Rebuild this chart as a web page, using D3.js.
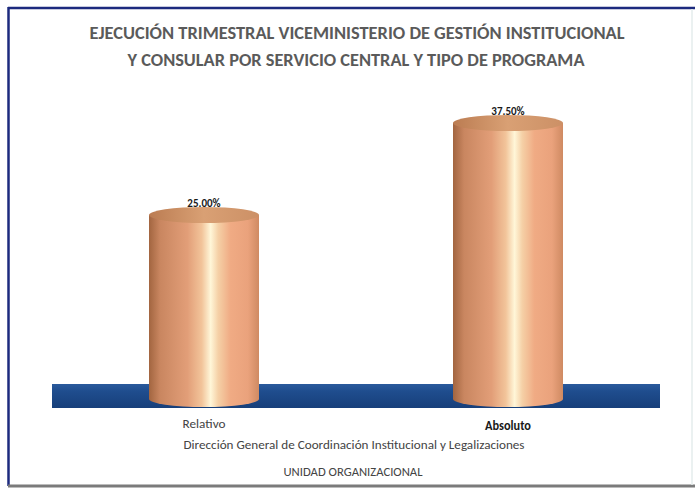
<!DOCTYPE html>
<html>

<head>
  <title>Ejecución trimestral</title>
  <script src="https://cdn.jsdelivr.net/npm/d3@7"></script>
  <style type="text/css">
    body {
      margin: 0;
      background: #ffffff;
    }

    text {
      font-family: Carlito, Calibri, "Liberation Sans Narrow", "Open Sans", sans-serif;
    }
  </style>
</head>

<body>
  <div id="chartArea"></div>
  <script type="text/javascript">
    let categories = ['Relativo', 'Absoluto'];
    let values = [25, 37.5];
    let valueLabels = ['25.00%', '37.50%'];
    let titleLines = [
      'EJECUCIÓN TRIMESTRAL VICEMINISTERIO DE GESTIÓN INSTITUCIONAL',
      'Y CONSULAR POR SERVICIO CENTRAL Y TIPO DE PROGRAMA'
    ];
    let groupTitle = 'Dirección General de Coordinación Institucional y Legalizaciones';
    let axisTitle = 'UNIDAD ORGANIZACIONAL';

    let w = 695;
    let h = 489;
    let base = 399;
    let barW = 110;
    let ry = 8;

    let svg = d3.select('#chartArea').append('svg')
      .attr('width', w)
      .attr('height', h);

    let defs = svg.append('defs');

    // cylinder body shading
    let bodyGrad = defs.append('linearGradient').attr('id', 'cyl')
      .attr('x1', 0).attr('x2', 1).attr('y1', 0).attr('y2', 0);
    [[0, '#a26540'], [0.1, '#c98660'], [0.35, '#e29e78'], [0.48, '#f2c49a'],
     [0.56, '#fff6d8'], [0.63, '#f5d0a6'], [0.74, '#f0ab84'], [0.9, '#eaa27c'], [1, '#cf8a62']]
      .forEach(s => bodyGrad.append('stop').attr('offset', s[0]).attr('stop-color', s[1]));

    let topGrad = defs.append('linearGradient').attr('id', 'cyltop')
      .attr('x1', 0).attr('x2', 1).attr('y1', 0).attr('y2', 0);
    [[0, '#bb7c52'], [0.5, '#d9a074'], [1, '#cc9066']]
      .forEach(s => topGrad.append('stop').attr('offset', s[0]).attr('stop-color', s[1]));

    let floorGrad = defs.append('linearGradient').attr('id', 'floor')
      .attr('x1', 0).attr('x2', 0).attr('y1', 0).attr('y2', 1);
    [[0, '#2a5a9c'], [0.3, '#1f4d8e'], [1, '#173f7a']]
      .forEach(s => floorGrad.append('stop').attr('offset', s[0]).attr('stop-color', s[1]));

    // frame
    svg.append('rect').attr('x', 9).attr('y', 9).attr('width', 684).attr('height', 475)
      .attr('fill', '#ffffff');
    svg.append('line').attr('x1', 8).attr('x2', 695).attr('y1', 8).attr('y2', 8)
      .attr('stroke', '#1c2a7e').attr('stroke-width', 2.5);
    svg.append('line').attr('x1', 8.5).attr('x2', 8.5).attr('y1', 7).attr('y2', 486)
      .attr('stroke', '#1c2a7e').attr('stroke-width', 2.5);
    svg.append('line').attr('x1', 8).attr('x2', 695).attr('y1', 486).attr('y2', 486)
      .attr('stroke', '#7b7b7b').attr('stroke-width', 3);
    svg.append('line').attr('x1', 692).attr('x2', 692).attr('y1', 9).attr('y2', 485)
      .attr('stroke', '#e4ecec').attr('stroke-width', 1.5);

    let xScale = d3.scalePoint()
      .domain(categories)
      .range([52, 660])
      .padding(0.5);

    let yScale = d3.scaleLinear()
      .domain([0, 40])
      .range([base, base - 294.4]);

    // floor band
    svg.append('rect')
      .attr('x', 52).attr('y', 384).attr('width', 608).attr('height', 24)
      .attr('fill', 'url(#floor)');

    let bars = svg.selectAll('g.bar')
      .data(values)
      .enter()
      .append('g')
      .attr('class', 'bar');

    bars.append('path')
      .attr('d', (d, i) => {
        let cx = xScale(categories[i]);
        let x0 = cx - barW / 2;
        let x1 = cx + barW / 2;
        let yt = yScale(d);
        return 'M' + x0 + ',' + yt + ' L' + x0 + ',' + base +
          ' A' + (barW / 2) + ',' + ry + ' 0 0 0 ' + x1 + ',' + base +
          ' L' + x1 + ',' + yt + ' Z';
      })
      .attr('fill', 'url(#cyl)');

    bars.append('ellipse')
      .attr('cx', (d, i) => xScale(categories[i]))
      .attr('cy', d => yScale(d))
      .attr('rx', barW / 2)
      .attr('ry', ry)
      .attr('fill', 'url(#cyltop)');

    bars.append('text')
      .attr('x', (d, i) => xScale(categories[i]))
      .attr('y', d => yScale(d) - 8)
      .attr('text-anchor', 'middle')
      .attr('font-size', 11)
      .attr('font-weight', 'bold')
      .attr('fill', '#1a1a1a')
      .text((d, i) => valueLabels[i]);

    // category labels
    svg.selectAll('text.cat')
      .data(categories)
      .enter()
      .append('text')
      .attr('class', 'cat')
      .attr('x', d => xScale(d))
      .attr('y', (d, i) => i === 0 ? 428 : 430)
      .attr('text-anchor', 'middle')
      .attr('font-size', 13)
      .attr('font-weight', (d, i) => i === 0 ? 'normal' : 'bold')
      .attr('fill', (d, i) => i === 0 ? '#444444' : '#1a1a1a')
      .attr('textLength', (d, i) => i === 0 ? 43 : 46)
      .attr('lengthAdjust', 'spacingAndGlyphs')
      .text(d => d);

    svg.append('text')
      .attr('x', 354).attr('y', 449)
      .attr('text-anchor', 'middle')
      .attr('font-size', 12.5)
      .attr('fill', '#444444')
      .attr('textLength', 341).attr('lengthAdjust', 'spacingAndGlyphs')
      .text(groupTitle);

    svg.append('text')
      .attr('x', 353).attr('y', 476)
      .attr('text-anchor', 'middle')
      .attr('font-size', 12.5)
      .attr('fill', '#444444')
      .attr('textLength', 139).attr('lengthAdjust', 'spacingAndGlyphs')
      .text(axisTitle);

    // title
    svg.selectAll('text.title')
      .data(titleLines)
      .enter()
      .append('text')
      .attr('class', 'title')
      .attr('x', (d, i) => i === 0 ? 357 : 356)
      .attr('y', (d, i) => 39 + i * 27)
      .attr('text-anchor', 'middle')
      .attr('font-size', 17)
      .attr('font-weight', 'bold')
      .attr('fill', '#5a5a5a')
      .attr('textLength', (d, i) => i === 0 ? 535 : 457)
      .attr('lengthAdjust', 'spacingAndGlyphs')
      .text(d => d);
  </script>
</body>

</html>
